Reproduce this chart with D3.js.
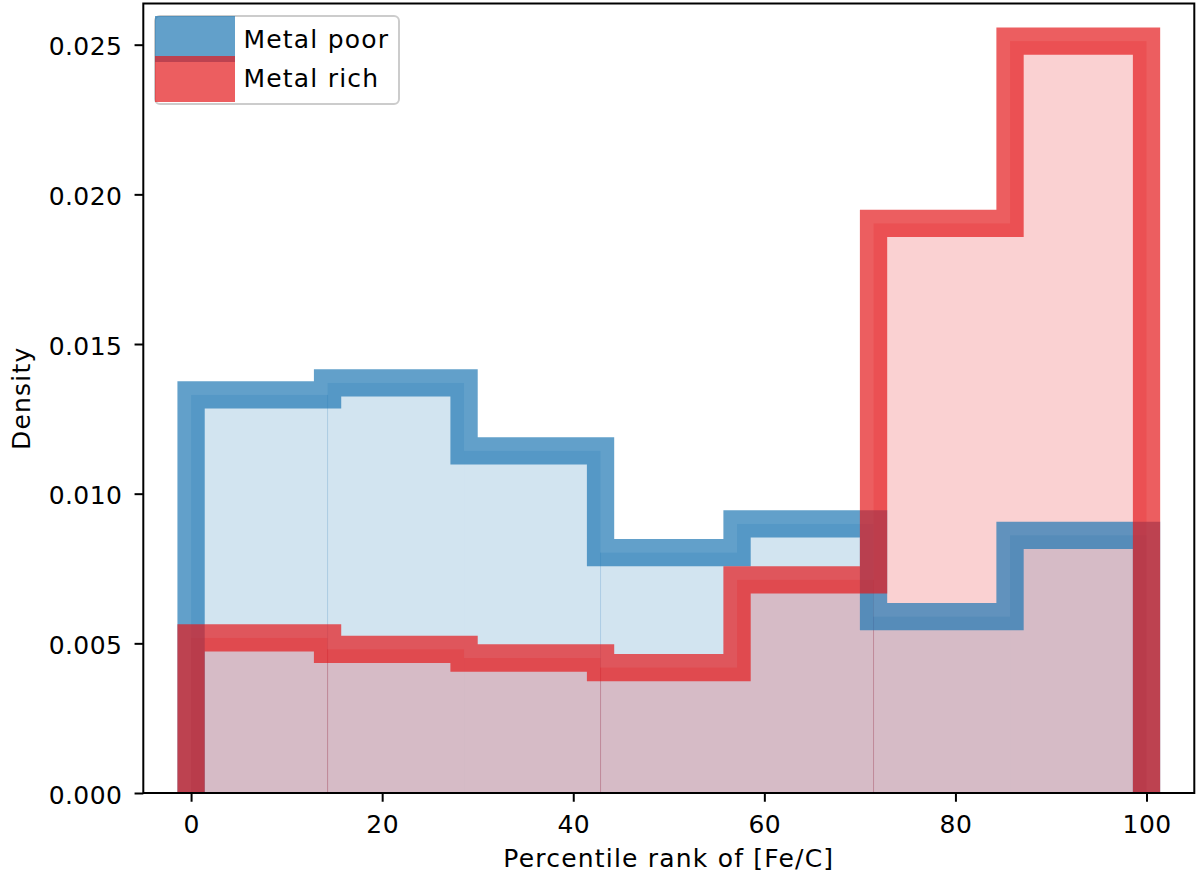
<!DOCTYPE html>
<html>
<head>
<meta charset="utf-8">
<script src="https://cdn.jsdelivr.net/npm/d3@7"></script>
<style>
  html, body { margin: 0; padding: 0; background: #fff; }
  svg { display: block; font-family: "DejaVu Sans", sans-serif; }
</style>
</head>
<body>
<svg id="chart" width="1197" height="878"></svg>
<script>
// ---- data ----
const binEdges = [0, 14.2857, 28.5714, 42.8571, 57.1429, 71.4286, 85.7143, 100];
const metalPoor = [0.01330, 0.01370, 0.01143, 0.00803, 0.00899, 0.00589, 0.00861];
const metalRich = [0.00518, 0.00480, 0.00451, 0.00419, 0.00712, 0.01903, 0.02512];
const seriesNames = ["Metal poor", "Metal rich"];
const seriesColors = ["#1f77b4", "#e41a1c"];
const xTicks = [0, 20, 40, 60, 80, 100];
const yTicks = [0, 0.005, 0.010, 0.015, 0.020, 0.025];
const xLabel = "Percentile rank of [Fe/C]";
const yLabel = "Density";

// ---- layout ----
const W = 1197, H = 878;
const plot = { left: 143.3, right: 1194.3, top: 3.5, bottom: 793 };
const fontSize = 25;
const lineW = 27.3;
const labelSpacing = "1.2px";
const tickSpacing = "0.4px";

const svg = d3.select("#chart");

const x = d3.scaleLinear().domain([-5, 105]).range([plot.left, plot.right]);
const yMax = d3.max([...metalPoor, ...metalRich]) * 1.05;
const y = d3.scaleLinear().domain([0, yMax]).range([plot.bottom, plot.top]);

svg.append("defs").append("clipPath").attr("id", "clip")
  .append("rect")
  .attr("x", plot.left).attr("y", plot.top)
  .attr("width", plot.right - plot.left).attr("height", plot.bottom - plot.top);

const g = svg.append("g").attr("clip-path", "url(#clip)");

const series = [metalPoor, metalRich];

// fills (bars)
series.forEach((vals, si) => {
  g.append("g").selectAll("rect").data(vals).join("rect")
    .attr("x", (d, i) => x(binEdges[i]))
    .attr("width", (d, i) => x(binEdges[i + 1]) - x(binEdges[i]))
    .attr("y", d => y(d))
    .attr("height", d => y(0) - y(d))
    .attr("fill", seriesColors[si])
    .attr("fill-opacity", 0.2);
  // faint seams between adjacent bars (antialiasing artifacts of the original)
  [1, 3, 5].forEach(k => {
    g.append("line")
      .attr("x1", x(binEdges[k])).attr("x2", x(binEdges[k]))
      .attr("y1", y(0)).attr("y2", y(Math.min(vals[k - 1], vals[k])))
      .attr("stroke", seriesColors[si])
      .attr("stroke-opacity", 0.22)
      .attr("stroke-width", 1);
  });
});

// step outlines
const line = d3.line().x(d => x(d[0])).y(d => y(d[1]));
series.forEach((vals, si) => {
  const pts = [[binEdges[0], 0]];
  vals.forEach((v, i) => { pts.push([binEdges[i], v]); pts.push([binEdges[i + 1], v]); });
  pts.push([binEdges[binEdges.length - 1], 0]);
  g.append("path")
    .attr("d", line(pts))
    .attr("fill", "none")
    .attr("stroke", seriesColors[si])
    .attr("stroke-opacity", 0.7)
    .attr("stroke-width", lineW)
    .attr("stroke-linejoin", "miter")
    .attr("stroke-linecap", "butt");
});

// ---- axes ----
const axisG = svg.append("g");
axisG.append("rect")
  .attr("x", plot.left).attr("y", plot.top)
  .attr("width", plot.right - plot.left).attr("height", plot.bottom - plot.top)
  .attr("fill", "none").attr("stroke", "#000").attr("stroke-width", 2);

const xAxis = d3.axisBottom(x).tickValues(xTicks).tickSize(8.75).tickPadding(0).tickFormat(d3.format("d"));
const xa = svg.append("g").attr("transform", `translate(0,${plot.bottom})`).call(xAxis);
xa.select(".domain").remove();
xa.selectAll(".tick line").attr("stroke", "#000").attr("stroke-width", 2);
xa.selectAll(".tick text").attr("font-size", fontSize).attr("fill", "#000")
  .attr("font-family", "DejaVu Sans").attr("letter-spacing", tickSpacing)
  .attr("y", 40).attr("dy", null);

const yAxis = d3.axisLeft(y).tickValues(yTicks).tickSize(8.75).tickPadding(0).tickFormat(d3.format(".3f"));
const ya = svg.append("g").attr("transform", `translate(${plot.left},0)`).call(yAxis);
ya.select(".domain").remove();
ya.selectAll(".tick line").attr("stroke", "#000").attr("stroke-width", 2);
ya.selectAll(".tick text").attr("font-size", fontSize).attr("fill", "#000")
  .attr("font-family", "DejaVu Sans").attr("letter-spacing", tickSpacing)
  .attr("x", -21).attr("dy", null).attr("y", 10);

// axis labels
svg.append("text")
  .attr("x", (plot.left + plot.right) / 2).attr("y", 867)
  .attr("text-anchor", "middle").attr("font-size", fontSize).attr("fill", "#000")
  .attr("letter-spacing", labelSpacing)
  .text(xLabel);
svg.append("text")
  .attr("transform", `translate(30,${(plot.top + plot.bottom) / 2}) rotate(-90)`)
  .attr("text-anchor", "middle").attr("font-size", fontSize).attr("fill", "#000")
  .attr("letter-spacing", labelSpacing)
  .text(yLabel);

// ---- legend ----
const leg = svg.append("g");
leg.append("rect")
  .attr("x", 155).attr("y", 16).attr("width", 244).attr("height", 88)
  .attr("rx", 5).attr("ry", 5)
  .attr("fill", "#fff").attr("fill-opacity", 0.8)
  .attr("stroke", "#cccccc").attr("stroke-width", 2);
seriesNames.forEach((name, i) => {
  leg.append("rect")
    .attr("x", 155).attr("y", 16 + i * 40).attr("width", 80).attr("height", 46)
    .attr("fill", seriesColors[i]).attr("fill-opacity", 0.7);
  leg.append("text")
    .attr("x", 243.5).attr("y", 47.5 + i * 39.7)
    .attr("font-size", fontSize).attr("fill", "#000")
    .attr("letter-spacing", labelSpacing)
    .text(name);
});
</script>
</body>
</html>
